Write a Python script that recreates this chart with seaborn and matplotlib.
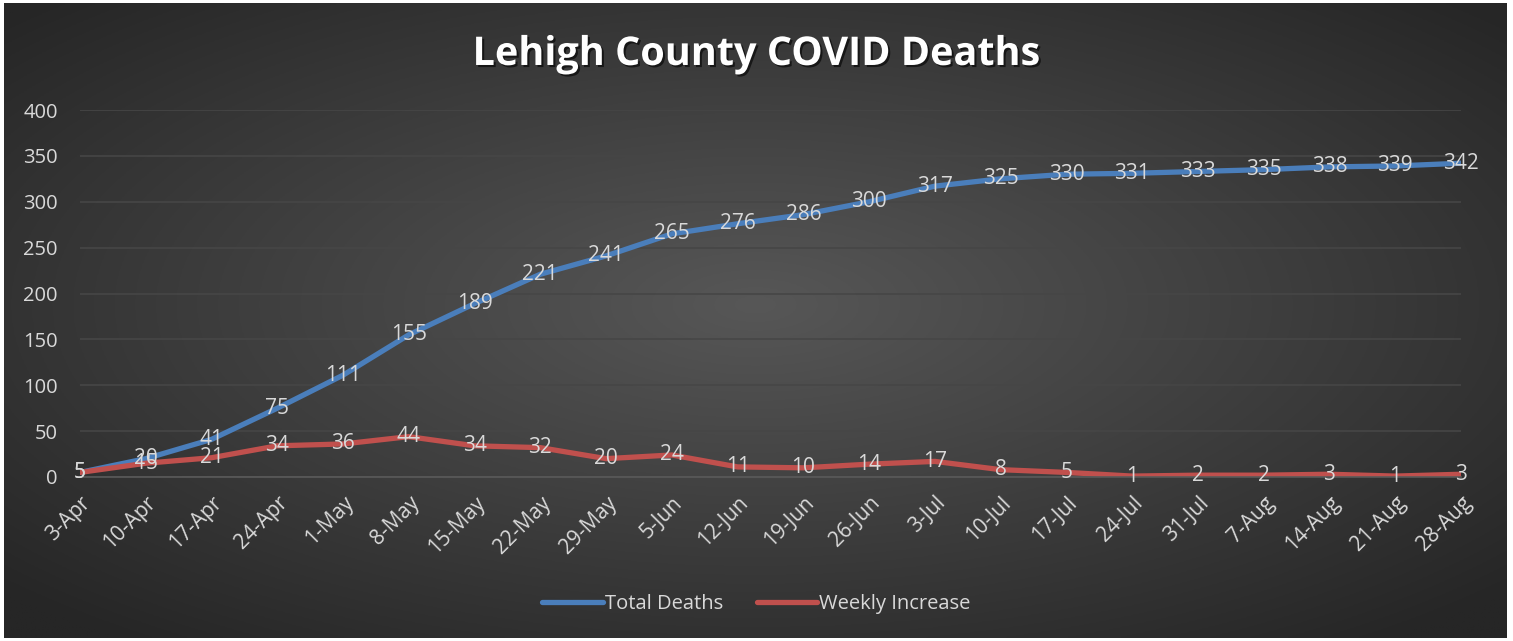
"""
Lehigh County COVID deaths, weekly totals and increases (Apr-Aug).
"""

import numpy as np
import pandas as pd
import matplotlib.pyplot as plt
import matplotlib.patheffects as pe
import seaborn as sns

# =========================
# Data
# =========================

weeks = ["3-Apr", "10-Apr", "17-Apr", "24-Apr", "1-May", "8-May", "15-May",
         "22-May", "29-May", "5-Jun", "12-Jun", "19-Jun", "26-Jun", "3-Jul",
         "10-Jul", "17-Jul", "24-Jul", "31-Jul", "7-Aug", "14-Aug", "21-Aug",
         "28-Aug"]

total_deaths = [5, 20, 41, 75, 111, 155, 189, 221, 241, 265, 276, 286, 300,
                317, 325, 330, 331, 333, 335, 338, 339, 342]

weekly_increase = [5, 15, 21, 34, 36, 44, 34, 32, 20, 24, 11, 10, 14, 17, 8,
                   5, 1, 2, 2, 3, 1, 3]

y_ticks = [0, 50, 100, 150, 200, 250, 300, 350, 400]

series_names = ["Total Deaths", "Weekly Increase"]
colors = {"Total Deaths": "#4a7ebb", "Weekly Increase": "#c0504d"}

df = pd.DataFrame({
    "idx": list(range(len(weeks))) * 2,
    "value": total_deaths + weekly_increase,
    "series": [series_names[0]] * len(weeks) + [series_names[1]] * len(weeks),
})

# =========================
# Figure + background
# =========================

sns.set_style("dark")
plt.rcParams["font.family"] = ["Open Sans", "DejaVu Sans"]

text_color = "#d9d9d9"

fig = plt.figure(figsize=(15.13, 6.41), dpi=100, facecolor="white")

# radial gradient panel
bg = fig.add_axes([4 / 1513, 3 / 641, 1503 / 1513, 635 / 641])
gx, gy = np.meshgrid(np.linspace(-1, 1, 600), np.linspace(-1, 1, 260))
r = np.sqrt(gx ** 2 + (gy + 0.05) ** 2)
shade = np.clip(1 - r / 1.35, 0, 1)
lo, hi = 0x26 / 255, 0x57 / 255
img = lo + (hi - lo) * shade
bg.imshow(np.dstack([img, img, img]), aspect="auto", extent=[0, 1, 0, 1])
bg.set_axis_off()

ax = fig.add_axes([80 / 1513, 164 / 641, 1381 / 1513, 367 / 641])
ax.set_facecolor("none")

sns.lineplot(
    data=df,
    x="idx",
    y="value",
    hue="series",
    palette=colors,
    linewidth=3.8,
    ax=ax,
    legend=False,
)
for line in ax.lines:
    line.set_solid_capstyle("round")

# data labels (centered on the points, like the original)
for vals in (total_deaths, weekly_increase):
    for i, v in enumerate(vals):
        ax.text(i, v, str(v), ha="center", va="center", fontsize=15,
                color=text_color)

# =========================
# Axes styling
# =========================

ax.set_xlim(0, len(weeks) - 1)
ax.set_ylim(0, 400)
ax.set_yticks(y_ticks)
ax.set_yticklabels([str(t) for t in y_ticks], fontsize=14.5, color=text_color)
ax.set_xticks(range(len(weeks)))
ax.set_xticklabels(weeks, rotation=45, ha="right", rotation_mode="anchor",
                   fontsize=15, color=text_color)
ax.tick_params(axis="y", length=0, pad=16)
ax.tick_params(axis="x", length=5, color="#5a5a5a", pad=6, direction="out")
ax.grid(axis="y", color="#464646", linewidth=1.2)
ax.grid(axis="x", visible=False)
for side in ("top", "right", "left"):
    ax.spines[side].set_visible(False)
ax.spines["bottom"].set_color("#5a5a5a")
ax.spines["bottom"].set_linewidth(1.2)
ax.set_xlabel("")
ax.set_ylabel("")

fig.text(0.5, 0.915, "Lehigh County COVID Deaths", ha="center", va="center",
         fontsize=28.5, fontweight="bold", color="white",
         path_effects=[pe.withSimplePatchShadow(offset=(1.5, -1.5),
                                                shadow_rgbFace="black",
                                                alpha=0.6)])

# legend
handles = [plt.Line2D([0], [0], color=colors[n], linewidth=3.8,
                      solid_capstyle="round") for n in series_names]
fig.legend(handles, series_names, loc="center", bbox_to_anchor=(0.5, 0.058),
           ncol=2, frameon=False, fontsize=14.5, labelcolor=text_color,
           handlelength=3.0, handletextpad=0.1, columnspacing=1.7)

fig.savefig("out.png", dpi=100, facecolor="white")
plt.close(fig)
